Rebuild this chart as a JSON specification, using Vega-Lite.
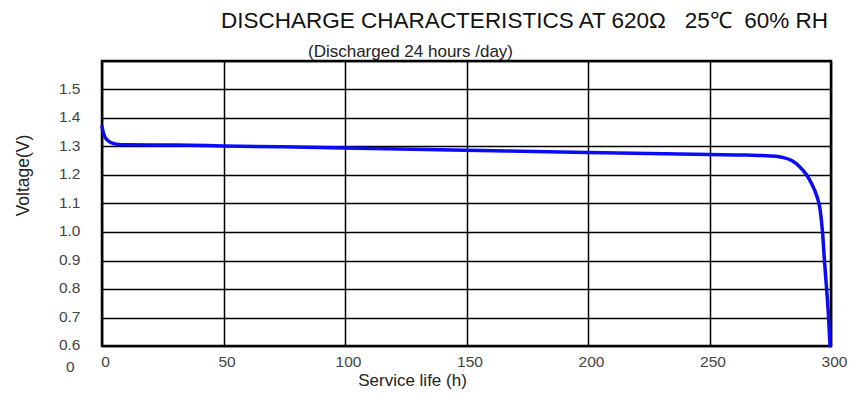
{
  "$schema": "https://vega.github.io/schema/vega-lite/v6.json",
  "autosize": {"type": "none"},
  "padding": {"left": 102, "top": 61, "right": 31, "bottom": 57},
  "width": 729,
  "height": 285,
  "background": "white",
  "config": {
    "font": "Liberation Sans",
    "view": {"stroke": "#000000", "strokeWidth": 2.5},
    "axis": {"labelFont": "Liberation Sans", "titleFont": "Liberation Sans", "titleFontWeight": "normal"}
  },
  "title": {
    "text": "DISCHARGE CHARACTERISTICS AT 620Ω\u00a0\u00a0\u00a025℃\u00a0\u00a060% RH",
    "anchor": "end",
    "frame": "group",
    "fontSize": 22.5,
    "fontWeight": "normal",
    "font": "Liberation Sans",
    "color": "#111111",
    "baseline": "alphabetic",
    "offset": 15,
    "dx": -3,
    "dy": 23
  },
  "layer": [
    {
      "data": {
        "values": [
          {"h": 0, "v": 1.37},
          {"h": 0.5, "v": 1.35},
          {"h": 1.2, "v": 1.333},
          {"h": 2, "v": 1.324},
          {"h": 3, "v": 1.317},
          {"h": 4.5, "v": 1.311},
          {"h": 6, "v": 1.308},
          {"h": 10, "v": 1.306},
          {"h": 30, "v": 1.305},
          {"h": 50, "v": 1.302},
          {"h": 100, "v": 1.295},
          {"h": 150, "v": 1.287},
          {"h": 200, "v": 1.279},
          {"h": 250, "v": 1.272},
          {"h": 265, "v": 1.27},
          {"h": 275, "v": 1.267},
          {"h": 280, "v": 1.262},
          {"h": 284, "v": 1.25},
          {"h": 287, "v": 1.23},
          {"h": 290, "v": 1.2},
          {"h": 292, "v": 1.17},
          {"h": 294, "v": 1.13},
          {"h": 295.5, "v": 1.08},
          {"h": 296.5, "v": 1.0},
          {"h": 297.3, "v": 0.9},
          {"h": 298.2, "v": 0.8},
          {"h": 299, "v": 0.7},
          {"h": 299.6, "v": 0.6}
        ]
      },
      "mark": {"type": "line", "color": "#0b0bf5", "strokeWidth": 3.5, "strokeCap": "round", "interpolate": "monotone"},
      "encoding": {
        "x": {
          "field": "h", "type": "quantitative",
          "scale": {"domain": [0, 300], "nice": false, "zero": false},
          "axis": {
            "orient": "bottom",
            "values": [0, 50, 100, 150, 200, 250, 300],
            "grid": true, "gridColor": "#000000", "gridWidth": 1.5, "gridOpacity": 1,
            "domain": false, "ticks": false, "tickSize": 0, "labelFlush": false,
            "labelFontSize": 15.5, "labelColor": "#444444", "labelPadding": 8, "labelOffset": 3,
            "title": "Service life (h)", "titleFontSize": 17, "titleColor": "#222222",
            "titleX": 310, "titleY": 39, "titleBaseline": "alphabetic", "titleAlign": "center"
          }
        },
        "y": {
          "field": "v", "type": "quantitative",
          "scale": {"domain": [0.6, 1.6], "nice": false, "zero": false},
          "axis": {
            "values": [0.6, 0.7, 0.8, 0.9, 1.0, 1.1, 1.2, 1.3, 1.4, 1.5, 1.6],
            "labelExpr": "datum.value > 1.55 ? '' : format(datum.value, '.1f')",
            "grid": true, "gridColor": "#000000", "gridWidth": 1.5, "gridOpacity": 1,
            "domain": false, "ticks": false, "tickSize": 0, "labelFlush": false,
            "labelFontSize": 15.5, "labelColor": "#444444", "labelPadding": 22, "labelOffset": -1.5,
            "title": "Voltage(V)", "titleFontSize": 17.5, "titleColor": "#222222",
            "titleAngle": -90, "titleX": -74, "titleY": 114, "titleBaseline": "alphabetic", "titleAlign": "center"
          }
        }
      }
    },
    {
      "data": {"values": [{"label": "0", "h": -13, "v": 0.5}]},
      "mark": {"type": "text", "fontSize": 15.5, "color": "#444444", "baseline": "middle", "align": "center", "dy": -8, "font": "Liberation Sans"},
      "encoding": {
        "x": {
          "field": "h", "type": "quantitative",
          "scale": {"domain": [0, 300], "nice": false, "zero": false},
          "axis": {
            "orient": "top", "labels": false, "ticks": false, "domain": false, "grid": false,
            "title": "(Discharged 24 hours /day)", "titleFontSize": 17, "titleColor": "#222222",
            "titleX": 308, "titleY": -4.3, "titleBaseline": "alphabetic", "titleAlign": "center"
          }
        },
        "y": {
          "field": "v", "type": "quantitative",
          "scale": {"domain": [0.6, 1.6], "nice": false, "zero": false},
          "axis": {
            "values": [0.6, 0.7, 0.8, 0.9, 1.0, 1.1, 1.2, 1.3, 1.4, 1.5, 1.6],
            "labelExpr": "datum.value > 1.55 ? '' : format(datum.value, '.1f')",
            "grid": true, "gridColor": "#000000", "gridWidth": 1.5, "gridOpacity": 1,
            "domain": false, "ticks": false, "tickSize": 0, "labelFlush": false,
            "labelFontSize": 15.5, "labelColor": "#444444", "labelPadding": 22, "labelOffset": -1.5,
            "title": "Voltage(V)", "titleFontSize": 17.5, "titleColor": "#222222",
            "titleAngle": -90, "titleX": -74, "titleY": 114, "titleBaseline": "alphabetic", "titleAlign": "center"
          }
        },
        "text": {"field": "label"}
      }
    }
  ],
  "resolve": {"axis": {"x": "independent"}}
}
